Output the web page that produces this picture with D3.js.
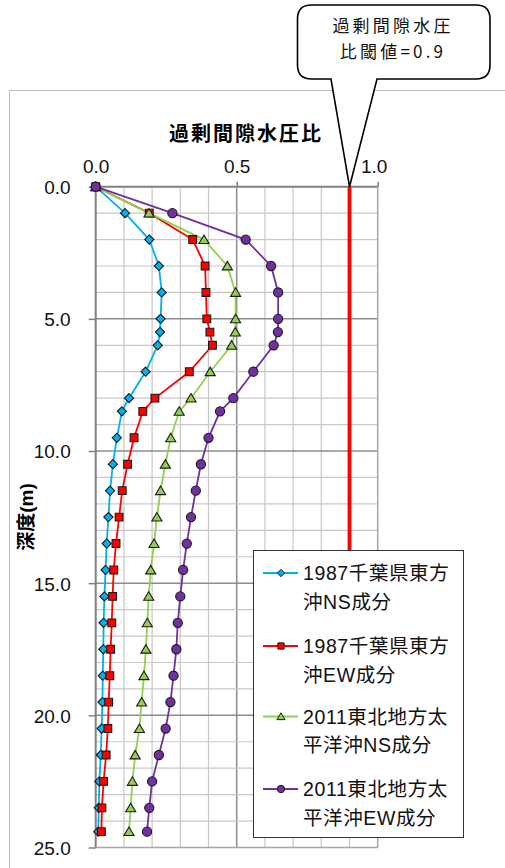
<!DOCTYPE html>
<html><head><meta charset="utf-8">
<script src="https://cdn.jsdelivr.net/npm/d3@7"></script>
<style>
html,body{margin:0;padding:0;background:#fff;}
svg{display:block;}
</style></head>
<body>
<svg id="chart" width="505" height="868"></svg>
<script>
// ---- data ----
const depths = [0,1,2,3,4,5,5.5,6,7,8,8.5,9.5,10.5,11.5,12.5,13.5,14.5,15.5,16.5,17.5,18.5,19.5,20.5,21.5,22.5,23.5,24.4];
const ns1987 = [0,0.104,0.19,0.224,0.234,0.23,0.228,0.22,0.177,0.118,0.093,0.075,0.061,0.051,0.045,0.039,0.035,0.031,0.028,0.027,0.025,0.024,0.021,0.018,0.013,0.011,0.009];
const ew1987 = [0,0.19,0.344,0.388,0.391,0.394,0.405,0.414,0.332,0.21,0.167,0.136,0.113,0.094,0.083,0.072,0.064,0.06,0.057,0.053,0.05,0.046,0.043,0.037,0.028,0.022,0.02];
const ns2011 = [0,0.189,0.384,0.467,0.496,0.496,0.495,0.482,0.406,0.338,0.296,0.266,0.247,0.23,0.217,0.207,0.195,0.188,0.183,0.178,0.171,0.163,0.155,0.14,0.13,0.124,0.118];
const ew2011 = [0,0.272,0.532,0.622,0.647,0.647,0.646,0.631,0.559,0.488,0.441,0.4,0.373,0.355,0.338,0.323,0.31,0.3,0.291,0.286,0.276,0.265,0.248,0.224,0.2,0.19,0.182];
const seriesNames = ["1987千葉県東方\n沖NS成分","1987千葉県東方\n沖EW成分","2011東北地方太\n平洋沖NS成分","2011東北地方太\n平洋沖EW成分"];
const thresholdValue = 0.9;
const thresholdDepths = [0, 20];
const xTicks = [0, 0.5, 1.0];
const yTicks = [0, 5, 10, 15, 20, 25];
const xTitle = "過剰間隙水圧比";
const yTitle = "深度(m)";
const calloutLines = ["過剰間隙水圧","比閾値=0.9"];

// ---- layout ----
const svg = d3.select("#chart");
const x = d3.scaleLinear().domain([0,1]).range([95.7,377.7]);
const y = d3.scaleLinear().domain([0,25]).range([186.7,847.5]);
const numFont = "'Liberation Sans', Arial, sans-serif";
const cjkFont = "'Liberation Sans', 'Noto Sans CJK JP', sans-serif";

// outer frame
svg.append("rect").attr("x",9.5).attr("y",90.5).attr("width",520).attr("height",800)
  .attr("fill","none").attr("stroke","#bfbfbf").attr("stroke-width",1);

// gridlines
const g = svg.append("g");
const minorX = d3.range(1,10).map(i=>i/10);
g.selectAll(".vx").data(minorX).join("line")
  .attr("x1",d=>x(d)).attr("x2",d=>x(d)).attr("y1",y(0)).attr("y2",y(25))
  .attr("stroke",d=>Math.abs(d-0.5)<1e-9?"#8c8c8c":"#c8c8c8").attr("stroke-width",d=>Math.abs(d-0.5)<1e-9?1.5:1.2);
const minorY = d3.range(1,25);
g.selectAll(".hy").data(minorY).join("line")
  .attr("y1",d=>y(d)).attr("y2",d=>y(d)).attr("x1",x(0)).attr("x2",x(1))
  .attr("stroke",d=>d%5===0?"#8c8c8c":"#c8c8c8").attr("stroke-width",d=>d%5===0?1.5:1.2);
g.append("line").attr("x1",x(1)).attr("x2",x(1)).attr("y1",y(0)).attr("y2",y(25)).attr("stroke","#a6a6a6").attr("stroke-width",1.5);
g.append("line").attr("x1",x(0)).attr("x2",x(1)).attr("y1",y(25)).attr("y2",y(25)).attr("stroke","#a6a6a6").attr("stroke-width",1.5);

// axes
const axTop = svg.append("g").attr("transform",`translate(0,${y(0)})`)
  .call(d3.axisTop(x).tickValues(xTicks).tickFormat(d3.format(".1f")).tickSize(5).tickPadding(9));
const axLeft = svg.append("g").attr("transform",`translate(${x(0)},0)`)
  .call(d3.axisLeft(y).tickValues(yTicks).tickFormat(d3.format(".1f")).tickSize(7).tickPadding(18));
[axTop, axLeft].forEach(a=>{
  a.select(".domain").attr("stroke","#808080").attr("stroke-width",2);
  a.selectAll(".tick line").attr("stroke","#808080").attr("stroke-width",1.5);
  a.selectAll(".tick text").attr("font-family",numFont).attr("font-size",19).attr("fill","#111");
});
axTop.select(".domain").attr("d",`M${x(0)},0H${x(1)}`);
axLeft.select(".domain").attr("d",`M0,${y(0)}V${y(25)}`);
axTop.selectAll(".tick text").filter(d=>d===1).attr("dx",-4);
axLeft.selectAll(".tick text").attr("dy","0.36em");

// titles
svg.append("text").attr("x",246).attr("y",141).attr("text-anchor","middle")
  .attr("font-family","'Noto Sans CJK JP', sans-serif").attr("font-weight","bold").attr("font-size",20)
  .attr("letter-spacing",2).text(xTitle);
svg.append("text").attr("transform","translate(33,517) rotate(-90)").attr("text-anchor","middle")
  .attr("font-family","'Liberation Sans','Noto Sans CJK JP', sans-serif").attr("font-weight","bold").attr("font-size",19)
  .text(yTitle);

// threshold line
svg.append("line").attr("x1",x(thresholdValue)).attr("x2",x(thresholdValue))
  .attr("y1",y(thresholdDepths[0])).attr("y2",y(thresholdDepths[1]))
  .attr("stroke","#ff0000").attr("stroke-width",3.8);

// series
const series = [
  {vals:ns1987, color:"#00b0f0", marker:"diamond"},
  {vals:ew1987, color:"#ff0000", marker:"square"},
  {vals:ns2011, color:"#92d050", marker:"triangle"},
  {vals:ew2011, color:"#7030a0", marker:"circle"}
];
function markerPath(type, s){
  // s = scale factor
  if(type==="diamond"){ const r=4.6*s; return `M0,${-r}L${r},0L0,${r}L${-r},0Z`; }
  if(type==="square"){ const r=3.9*s; return `M${-r},${-r}H${r}V${r}H${-r}Z`; }
  if(type==="triangle"){ const h=4.6*s; return `M0,${-h}L${h*1.1},${h*0.85}H${-h*1.1}Z`; }
  const r=4.6*s; return `M${r},0A${r},${r} 0 1,1 ${-r},0A${r},${r} 0 1,1 ${r},0Z`;
}
const line = d3.line().x(d=>x(d[0])).y(d=>y(d[1]));
series.forEach(s=>{
  const pts = s.vals.map((v,i)=>[v,depths[i]]);
  svg.append("path").datum(pts).attr("d",line).attr("fill","none")
    .attr("stroke",s.color).attr("stroke-width",1.8);
});
series.forEach(s=>{
  const pts = s.vals.map((v,i)=>[v,depths[i]]);
  svg.append("g").selectAll("path").data(pts).join("path")
    .attr("transform",d=>`translate(${x(d[0])},${y(d[1])})`)
    .attr("d",markerPath(s.marker,1)).attr("fill",s.color).attr("stroke","#1a1a1a").attr("stroke-width",1.1);
});

// legend
const lg = svg.append("g");
lg.append("rect").attr("x",253.5).attr("y",550.5).attr("width",210).attr("height",287)
  .attr("fill","#fff").attr("stroke","#333").attr("stroke-width",1);
const entryY = [573, 646, 716.5, 789];
series.forEach((s,i)=>{
  const yy = entryY[i];
  lg.append("line").attr("x1",263).attr("x2",298).attr("y1",yy).attr("y2",yy).attr("stroke",s.color).attr("stroke-width",1.8);
  lg.append("path").attr("transform",`translate(281,${yy})`).attr("d",markerPath(s.marker,0.8)).attr("fill",s.color).attr("stroke","#1a1a1a").attr("stroke-width",1);
  const lines = seriesNames[i].split("\n");
  lines.forEach((t,j)=>{
    lg.append("text").attr("x",303).attr("y",yy+7+j*28.5).attr("font-family",cjkFont).attr("font-size",19.5)
      .attr("letter-spacing",0.6).attr("fill","#111").text(t);
  });
});

// callout
const bx0=297.5, bx1=490, by0=5, by1=79, r=14;
const tx0=331, tx1=377, ax=x(thresholdValue), ay=y(0);
const cp = `M${bx0+r},${by0} H${bx1-r} Q${bx1},${by0} ${bx1},${by0+r} V${by1-r} Q${bx1},${by1} ${bx1-r},${by1} H${tx1} L${ax},${ay} L${tx0},${by1} H${bx0+r} Q${bx0},${by1} ${bx0},${by1-r} V${by0+r} Q${bx0},${by0} ${bx0+r},${by0} Z`;
svg.append("path").attr("d",cp).attr("fill","#fff").attr("stroke","#000").attr("stroke-width",1.6);
calloutLines.forEach((t,i)=>{
  svg.append("text").attr("x",393).attr("y",32+i*25.5).attr("text-anchor","middle")
    .attr("font-family","'Noto Sans CJK JP', sans-serif").attr("font-size",17).attr("letter-spacing",3.2)
    .attr("fill","#111").text(t);
});
</script>
</body></html>
